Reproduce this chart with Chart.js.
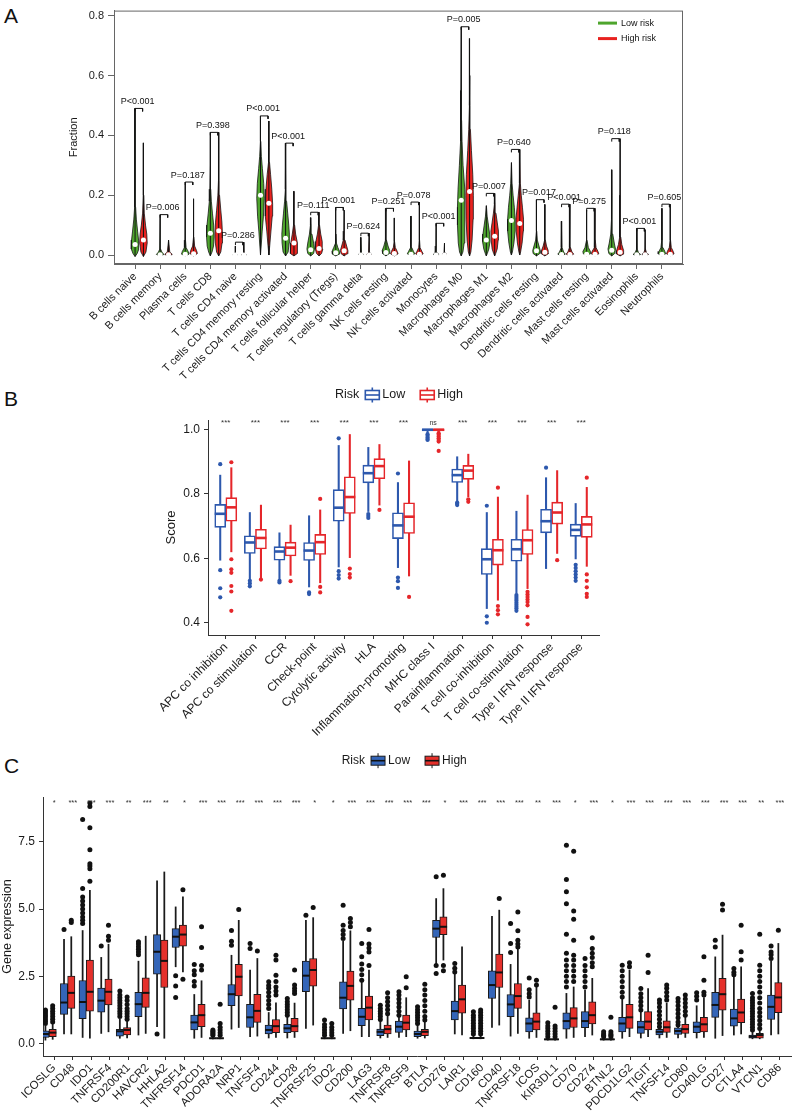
<!DOCTYPE html>
<html>
<head>
<meta charset="utf-8">
<script src="https://cdn.jsdelivr.net/npm/chart.js@4.4.1/dist/chart.umd.min.js"></script>
<style>
  body { margin: 0; background: #fff; width: 797px; height: 1115px; position: relative; overflow: hidden; font-family: 'Liberation Sans', Arial, sans-serif; }
  canvas { position: absolute; left: 0; }
  .tag { position: absolute; left: 4px; font-size: 21px; color: #111; line-height: 1; }
</style>
</head>
<body>
<div class="tag" style="top:5px">A</div>
<div class="tag" style="top:388px">B</div>
<div class="tag" style="top:755px">C</div>
<canvas id="violins" width="797" height="392" style="top:0"></canvas>
<canvas id="scores" width="797" height="365" style="top:385px"></canvas>
<canvas id="genes" width="797" height="370" style="top:745px"></canvas>
<script>
// ---------- panel A: immune cell fractions ----------
const cellTypes = ['B cells naive', 'B cells memory', 'Plasma cells', 'T cells CD8', 'T cells CD4 naive',
  'T cells CD4 memory resting', 'T cells CD4 memory activated', 'T cells follicular helper',
  'T cells regulatory (Tregs)', 'T cells gamma delta', 'NK cells resting', 'NK cells activated', 'Monocytes',
  'Macrophages M0', 'Macrophages M1', 'Macrophages M2', 'Dendritic cells resting', 'Dendritic cells activated',
  'Mast cells resting', 'Mast cells activated', 'Eosinophils', 'Neutrophils'];
const pLabels = ['P<0.001', 'P=0.006', 'P=0.187', 'P=0.398', 'P=0.286', 'P<0.001', 'P<0.001', 'P=0.111',
  'P<0.001', 'P=0.624', 'P=0.251', 'P=0.078', 'P<0.001', 'P=0.005', 'P=0.007', 'P=0.640', 'P=0.017',
  'P<0.001', 'P=0.275', 'P=0.118', 'P<0.001', 'P=0.605'];
const fractionTicks = [0, 0.2, 0.4, 0.6, 0.8];

// violin outlines, bottom to top: [fraction, half width]
const lowViolins = [
  [[-0.005, 0], [0.005, 0.25], [0.02, 0.45], [0.05, 0.42], [0.08, 0.3], [0.12, 0.15], [0.16, 0.07], [0.25, 0.04], [0.49, 0.01]],
  [[-0.003, 0], [0.002, 0.45], [0.01, 0.2], [0.02, 0.05], [0.135, 0.01]],
  [[-0.003, 0], [0.003, 0.45], [0.012, 0.35], [0.025, 0.1], [0.05, 0.03], [0.244, 0.01]],
  [[-0.003, 0], [0.01, 0.2], [0.03, 0.38], [0.06, 0.45], [0.1, 0.4], [0.14, 0.25], [0.18, 0.12], [0.22, 0.05], [0.3, 0.02], [0.41, 0.01]],
  [[-0.002, 0], [0.001, 0.3], [0.004, 0.05], [0.03, 0.006]],
  [[0, 0], [0.03, 0.08], [0.08, 0.2], [0.13, 0.35], [0.19, 0.45], [0.24, 0.38], [0.29, 0.22], [0.33, 0.1], [0.38, 0.04], [0.465, 0.01]],
  [[-0.003, 0], [0.01, 0.3], [0.04, 0.42], [0.07, 0.45], [0.1, 0.38], [0.14, 0.25], [0.18, 0.12], [0.22, 0.05], [0.374, 0.01]],
  [[-0.003, 0], [0.005, 0.35], [0.02, 0.45], [0.04, 0.35], [0.07, 0.15], [0.1, 0.05], [0.125, 0.01]],
  [[-0.003, 0], [0.003, 0.4], [0.012, 0.45], [0.025, 0.25], [0.04, 0.08], [0.07, 0.02], [0.159, 0.01]],
  [[-0.002, 0], [0.002, 0.3], [0.008, 0.08], [0.059, 0.008]],
  [[-0.003, 0], [0.005, 0.4], [0.015, 0.45], [0.03, 0.25], [0.05, 0.06], [0.156, 0.01]],
  [[-0.003, 0], [0.004, 0.45], [0.012, 0.3], [0.025, 0.08], [0.05, 0.02], [0.13, 0.008]],
  [[-0.002, 0], [0.002, 0.35], [0.008, 0.1], [0.03, 0.02], [0.106, 0.006]],
  [[-0.003, 0], [0.01, 0.2], [0.04, 0.35], [0.1, 0.45], [0.16, 0.45], [0.22, 0.38], [0.3, 0.22], [0.38, 0.1], [0.45, 0.05], [0.55, 0.03], [0.763, 0.01]],
  [[-0.003, 0], [0.005, 0.12], [0.02, 0.3], [0.045, 0.45], [0.07, 0.4], [0.1, 0.25], [0.13, 0.1], [0.165, 0.01]],
  [[0, 0], [0.01, 0.12], [0.04, 0.3], [0.08, 0.45], [0.12, 0.45], [0.16, 0.35], [0.2, 0.2], [0.24, 0.08], [0.309, 0.01]],
  [[-0.003, 0], [0.005, 0.4], [0.015, 0.45], [0.03, 0.3], [0.05, 0.1], [0.08, 0.03], [0.185, 0.01]],
  [[-0.003, 0], [0.003, 0.45], [0.01, 0.25], [0.025, 0.06], [0.113, 0.008]],
  [[-0.003, 0], [0.004, 0.4], [0.012, 0.45], [0.025, 0.2], [0.05, 0.04], [0.15, 0.008]],
  [[-0.003, 0], [0.005, 0.35], [0.02, 0.45], [0.04, 0.3], [0.07, 0.12], [0.12, 0.05], [0.2, 0.03], [0.285, 0.01]],
  [[-0.002, 0], [0.002, 0.45], [0.008, 0.2], [0.02, 0.04], [0.089, 0.006]],
  [[-0.003, 0], [0.004, 0.45], [0.012, 0.35], [0.025, 0.12], [0.05, 0.03], [0.156, 0.008]]
];
const highViolins = [
  [[-0.005, 0], [0.01, 0.3], [0.04, 0.45], [0.07, 0.4], [0.1, 0.25], [0.14, 0.1], [0.2, 0.05], [0.375, 0.01]],
  [[-0.003, 0], [0.002, 0.45], [0.01, 0.15], [0.05, 0.01]],
  [[-0.003, 0], [0.005, 0.45], [0.015, 0.35], [0.03, 0.12], [0.06, 0.03], [0.188, 0.01]],
  [[-0.003, 0], [0.01, 0.25], [0.04, 0.4], [0.07, 0.45], [0.11, 0.38], [0.15, 0.25], [0.2, 0.1], [0.25, 0.04], [0.41, 0.01]],
  [[-0.002, 0], [0.001, 0.3], [0.004, 0.05], [0.043, 0.006]],
  [[0, 0], [0.03, 0.1], [0.08, 0.25], [0.13, 0.4], [0.17, 0.45], [0.22, 0.35], [0.27, 0.2], [0.31, 0.08], [0.36, 0.03], [0.448, 0.01]],
  [[-0.003, 0], [0.005, 0.4], [0.02, 0.45], [0.04, 0.38], [0.07, 0.2], [0.1, 0.08], [0.14, 0.03], [0.213, 0.01]],
  [[-0.003, 0], [0.005, 0.3], [0.02, 0.45], [0.045, 0.38], [0.07, 0.2], [0.1, 0.06], [0.143, 0.01]],
  [[-0.003, 0], [0.004, 0.35], [0.015, 0.45], [0.03, 0.3], [0.05, 0.1], [0.08, 0.02], [0.15, 0.01]],
  [[-0.002, 0], [0.002, 0.3], [0.008, 0.08], [0.073, 0.008]],
  [[-0.003, 0], [0.004, 0.45], [0.012, 0.35], [0.025, 0.12], [0.045, 0.03], [0.124, 0.01]],
  [[-0.003, 0], [0.004, 0.45], [0.012, 0.3], [0.025, 0.08], [0.05, 0.02], [0.177, 0.008]],
  [[-0.002, 0], [0.002, 0.3], [0.008, 0.06], [0.04, 0.006]],
  [[-0.003, 0], [0.01, 0.15], [0.05, 0.3], [0.12, 0.42], [0.2, 0.45], [0.27, 0.38], [0.35, 0.22], [0.42, 0.1], [0.5, 0.05], [0.6, 0.03], [0.724, 0.01]],
  [[-0.003, 0], [0.005, 0.12], [0.02, 0.3], [0.05, 0.42], [0.08, 0.45], [0.11, 0.3], [0.14, 0.15], [0.17, 0.05], [0.206, 0.01]],
  [[0, 0], [0.01, 0.1], [0.04, 0.28], [0.08, 0.42], [0.12, 0.45], [0.16, 0.32], [0.2, 0.18], [0.24, 0.07], [0.353, 0.01]],
  [[-0.003, 0], [0.005, 0.45], [0.015, 0.4], [0.03, 0.2], [0.05, 0.06], [0.08, 0.02], [0.169, 0.01]],
  [[-0.003, 0], [0.003, 0.45], [0.01, 0.25], [0.025, 0.06], [0.17, 0.008]],
  [[-0.003, 0], [0.004, 0.45], [0.012, 0.35], [0.025, 0.12], [0.05, 0.03], [0.156, 0.008]],
  [[-0.003, 0], [0.004, 0.45], [0.015, 0.42], [0.035, 0.2], [0.06, 0.08], [0.1, 0.03], [0.2, 0.015], [0.389, 0.008]],
  [[-0.002, 0], [0.002, 0.4], [0.008, 0.15], [0.02, 0.03], [0.085, 0.006]],
  [[-0.003, 0], [0.004, 0.45], [0.012, 0.35], [0.025, 0.12], [0.05, 0.03], [0.17, 0.008]]
];
const lowMedians = [0.035, 0.001, 0.003, 0.073, 0, 0.2, 0.056, 0.018, 0.0075, 0, 0.0086, 0.003, 0, 0.183, 0.05, 0.115, 0.014, 0.002, 0.003, 0.016, 0.001, 0.003];
const highMedians = [0.05, 0.001, 0.004, 0.081, 0, 0.173, 0.04, 0.0215, 0.014, 0, 0.005, 0.003, 0, 0.212, 0.063, 0.105, 0.009, 0.002, 0.003, 0.009, 0.001, 0.003];

// ---------- panel B: immune function scores ----------
const scoreNames = ['APC co inhibition', 'APC co stimulation', 'CCR', 'Check-point', 'Cytolytic activity', 'HLA',
  'Inflammation-promoting', 'MHC class I', 'Parainflammation', 'T cell co-inhibition', 'T cell co-stimulation',
  'Type I IFN response', 'Type II IFN response'];
const scoreStars = ['***', '***', '***', '***', '***', '***', '***', 'ns', '***', '***', '***', '***', '***'];
const scoreTicks = [0.4, 0.6, 0.8, 1.0];
// [lower whisker, q1, median, q3, upper whisker]
const scoreLow = [
  [0.594, 0.696, 0.738, 0.767, 0.858], [0.534, 0.615, 0.649, 0.670, 0.742], [0.532, 0.594, 0.621, 0.636, 0.679],
  [0.511, 0.593, 0.624, 0.649, 0.732], [0.573, 0.715, 0.757, 0.813, 0.950], [0.745, 0.834, 0.864, 0.889, 0.944],
  [0.571, 0.661, 0.702, 0.741, 0.835], [0.990, 0.995, 0.999, 1.000, 1.000], [0.777, 0.835, 0.858, 0.877, 0.915],
  [0.444, 0.550, 0.597, 0.630, 0.742], [0.491, 0.591, 0.628, 0.659, 0.746], [0.568, 0.679, 0.715, 0.752, 0.850],
  [0.598, 0.668, 0.688, 0.706, 0.770]
];
const scoreHigh = [
  [0.620, 0.715, 0.758, 0.788, 0.881], [0.536, 0.629, 0.663, 0.690, 0.765], [0.547, 0.607, 0.633, 0.650, 0.703],
  [0.524, 0.612, 0.650, 0.674, 0.750], [0.602, 0.739, 0.790, 0.853, 0.984], [0.765, 0.847, 0.886, 0.909, 0.953],
  [0.545, 0.677, 0.729, 0.772, 0.902], [0.990, 0.995, 0.999, 1.000, 1.000], [0.791, 0.845, 0.872, 0.888, 0.923],
  [0.470, 0.579, 0.625, 0.659, 0.790], [0.506, 0.612, 0.656, 0.689, 0.796], [0.615, 0.706, 0.742, 0.774, 0.872],
  [0.575, 0.665, 0.705, 0.730, 0.820]
];
const scoreLowOut = [
  [0.892, 0.563, 0.507, 0.479], [0.530, 0.522, 0.513], [0.530, 0.525], [0.494, 0.489], [0.972, 0.560, 0.548, 0.537],
  [0.737, 0.731, 0.725], [0.863, 0.540, 0.529, 0.508], [0.985, 0.980, 0.975, 0.970, 0.967], [0.773, 0.769, 0.765],
  [0.763, 0.420, 0.400], [0.486, 0.480, 0.474, 0.468, 0.462, 0.456, 0.450, 0.444, 0.437], [0.881],
  [0.580, 0.570, 0.560, 0.550, 0.540, 0.530]
];
const scoreHighOut = [
  [0.898, 0.597, 0.566, 0.555, 0.514, 0.497, 0.437], [0.534], [0.529], [0.784, 0.511, 0.494], [0.568, 0.551, 0.540],
  [0.750], [0.480], [0.988, 0.983, 0.978, 0.972, 0.967, 0.962, 0.933], [0.783, 0.775], [0.819, 0.452, 0.439, 0.426],
  [0.496, 0.488, 0.480, 0.472, 0.464, 0.454, 0.418, 0.395], [0.594], [0.850, 0.550, 0.530, 0.510, 0.490, 0.480]
];

// ---------- panel C: immune checkpoint genes ----------
const geneNames = ['ICOSLG', 'CD48', 'IDO1', 'TNFRSF4', 'CD200R1', 'HAVCR2', 'HHLA2', 'TNFRSF14', 'PDCD1', 'ADORA2A',
  'NRP1', 'TNFSF4', 'CD244', 'CD28', 'TNFRSF25', 'IDO2', 'CD200', 'LAG3', 'TNFRSF8', 'TNFRSF9', 'BTLA', 'CD276',
  'LAIR1', 'CD160', 'CD40', 'TNFRSF18', 'ICOS', 'KIR3DL1', 'CD70', 'CD274', 'BTNL2', 'PDCD1LG2', 'TIGIT',
  'TNFSF14', 'CD80', 'CD40LG', 'CD27', 'CTLA4', 'VTCN1', 'CD86'];
const geneStars = ['*', '***', '***', '***', '**', '***', '**', '*', '***', '***', '***', '***', '***', '***', '*', '*',
  '***', '***', '***', '***', '***', '*', '***', '***', '***', '***', '**', '***', '*', '***', '*', '***', '***',
  '***', '***', '***', '***', '***', '**', '***'];
const geneTicks = [0, 2.5, 5, 7.5];
const geneLow = [
  [0.12, 0.22, 0.35, 0.47, 0.65], [0.35, 1.08, 1.52, 2.23, 3.87], [0.22, 0.92, 1.54, 2.34, 4.2], [0.37, 1.16, 1.59, 2.06, 3.2],
  [0.19, 0.27, 0.45, 0.52, 0.9], [0.31, 0.99, 1.46, 1.9, 3.06], [0.62, 2.58, 3.41, 4.05, 6.05], [2.85, 3.57, 3.97, 4.27, 5.08],
  [0.19, 0.5, 0.78, 1.05, 1.82], [0.17, 0.18, 0.19, 0.21, 0.25], [0.53, 1.4, 1.83, 2.19, 3.28], [0.25, 0.59, 0.97, 1.45, 2.73],
  [0.2, 0.35, 0.5, 0.68, 1.15], [0.2, 0.4, 0.56, 0.71, 1.0], [0.56, 1.92, 2.52, 3.06, 4.58], [0.17, 0.18, 0.19, 0.21, 0.25],
  [0.37, 1.28, 1.7, 2.29, 3.8], [0.25, 0.66, 0.99, 1.3, 2.3], [0.2, 0.29, 0.43, 0.53, 0.85], [0.22, 0.41, 0.62, 0.83, 1.0],
  [0.19, 0.25, 0.35, 0.46, 0.7], [2.97, 3.94, 4.27, 4.58, 5.39], [0.35, 0.87, 1.2, 1.57, 2.6], [0.17, 0.18, 0.2, 0.22, 0.27],
  [0.59, 1.67, 2.17, 2.7, 4.73], [0.27, 0.99, 1.45, 1.82, 2.94], [0.19, 0.43, 0.74, 0.95, 1.61], [0.12, 0.13, 0.15, 0.17, 0.2],
  [0.19, 0.53, 0.83, 1.14, 1.86], [0.25, 0.58, 0.83, 1.18, 1.98], [0.12, 0.13, 0.15, 0.17, 0.2], [0.19, 0.43, 0.74, 0.97, 1.65],
  [0.2, 0.37, 0.6, 0.83, 1.2], [0.2, 0.31, 0.43, 0.52, 0.6], [0.2, 0.33, 0.46, 0.58, 0.65], [0.2, 0.4, 0.62, 0.8, 1.4],
  [0.19, 0.97, 1.43, 1.9, 3.22], [0.31, 0.64, 0.93, 1.28, 2.48], [0.17, 0.19, 0.25, 0.31, 0.45], [0.31, 0.89, 1.36, 1.8, 3.06]
];
const geneHigh = [
  [0.15, 0.25, 0.4, 0.52, 0.72], [0.35, 1.3, 1.88, 2.5, 3.97], [0.19, 1.2, 1.92, 3.1, 5.7], [0.43, 1.43, 1.92, 2.39, 3.69],
  [0.2, 0.31, 0.5, 0.59, 0.85], [0.37, 1.34, 1.88, 2.44, 3.99], [0.19, 2.08, 3.07, 3.84, 6.38], [2.66, 3.62, 4.05, 4.4, 5.45],
  [0.22, 0.62, 1.05, 1.45, 2.33], [0.17, 0.18, 0.19, 0.21, 0.26], [0.59, 1.77, 2.48, 2.94, 4.58], [0.27, 0.78, 1.21, 1.83, 3.16],
  [0.22, 0.4, 0.64, 0.89, 1.51], [0.22, 0.43, 0.64, 0.93, 1.5], [0.68, 2.13, 2.73, 3.16, 4.68], [0.17, 0.18, 0.19, 0.21, 0.25],
  [0.47, 1.61, 2.14, 2.69, 4.19], [0.25, 0.87, 1.33, 1.76, 2.73], [0.22, 0.35, 0.53, 0.68, 1.05], [0.25, 0.5, 0.77, 1.05, 1.7],
  [0.2, 0.29, 0.43, 0.52, 0.8], [3.1, 4.05, 4.34, 4.71, 5.76], [0.31, 1.12, 1.64, 2.17, 3.59], [0.17, 0.18, 0.2, 0.22, 0.27],
  [0.68, 2.08, 2.64, 3.32, 4.96], [0.37, 1.3, 1.76, 2.23, 3.5], [0.22, 0.5, 0.81, 1.14, 2.1], [0.12, 0.13, 0.15, 0.17, 0.2],
  [0.22, 0.59, 0.93, 1.33, 2.1], [0.31, 0.72, 1.05, 1.55, 2.42], [0.12, 0.13, 0.15, 0.17, 0.2], [0.25, 0.56, 0.97, 1.45, 2.73],
  [0.25, 0.5, 0.81, 1.18, 2.04], [0.22, 0.41, 0.6, 0.84, 1.5], [0.22, 0.37, 0.53, 0.71, 1.0], [0.22, 0.43, 0.71, 0.97, 1.7],
  [0.29, 1.24, 1.83, 2.42, 4.03], [0.35, 0.77, 1.15, 1.65, 2.85], [0.17, 0.19, 0.31, 0.37, 0.5], [0.35, 1.14, 1.71, 2.26, 3.72]
];
const geneLowOut = [
  [0.74, 0.82, 0.9, 0.98, 1.05, 1.12, 1.2, 1.24], [4.24], [4.46, 4.58, 4.7, 4.85, 5.0, 5.15, 5.3, 5.45, 5.76, 8.33], [3.62],
  [1.0, 1.1, 1.2, 1.3, 1.4, 1.5, 1.6, 1.7, 1.8, 1.95], [3.3, 3.4, 3.5, 3.6, 3.7, 3.78], [0.35], [2.52, 2.14, 1.71],
  [2.14, 2.3, 2.55, 2.7, 2.94], [0.3, 0.35, 0.4, 0.45, 0.5], [3.65, 3.8, 4.2], [3.53, 3.72],
  [1.3, 1.45, 1.6, 1.75, 1.9, 2.05, 2.15, 2.29], [1.05, 1.15, 1.25, 1.35, 1.45, 1.55, 1.67], [4.77],
  [0.3, 0.4, 0.5, 0.6, 0.7, 0.87], [3.9, 4.05, 4.2, 4.4, 5.14], [2.35, 2.55, 2.75, 2.95, 3.22, 3.72],
  [0.89, 1.0, 1.1, 1.2, 1.3, 1.42], [1.05, 1.2, 1.35, 1.5, 1.65, 1.8, 1.92], [0.74, 0.85, 0.95, 1.05, 1.15, 1.25, 1.36],
  [6.2, 2.9, 2.6], [2.66, 2.8, 2.97], [0.35, 0.45, 0.55, 0.65, 0.75, 0.85, 0.95, 1.05, 1.18], [], [3.38, 3.72, 4.46],
  [1.73, 1.85, 2.0, 2.43], [0.25, 0.35, 0.45, 0.55, 0.65, 0.77],
  [2.1, 2.3, 2.5, 2.7, 2.9, 3.1, 3.35, 4.06, 5.2, 5.64, 6.1, 7.37], [2.1, 2.3, 2.5, 2.7, 2.9, 3.16], [0.25, 0.3, 0.35, 0.43],
  [1.73, 1.9, 2.1, 2.3, 2.5, 2.7, 2.91], [1.24, 1.4, 1.55, 1.7, 1.85, 2.04], [0.62, 0.75, 0.9, 1.05, 1.2, 1.35, 1.5, 1.61],
  [0.68, 0.8, 0.95, 1.1, 1.25, 1.4, 1.55, 1.67], [1.61, 1.75, 1.88], [3.59, 3.84], [2.55, 2.65, 2.79],
  [0.5, 0.6, 0.7, 0.8, 0.9, 1.0, 1.1, 1.2, 1.3, 1.4, 1.5, 1.6, 1.7, 1.86], [3.16, 3.3, 3.4, 3.62]
];
const geneHighOut = [
  [0.8, 0.9, 1.0, 1.1, 1.2, 1.3, 1.4], [4.5, 4.58], [6.03, 6.5, 6.6, 6.69, 7.21, 8.03, 8.82, 8.95], [3.84, 3.99, 4.4],
  [0.9, 1.0, 1.1, 1.2, 1.3, 1.45, 1.6, 1.73], [], [], [5.72, 2.39], [2.73, 2.9, 3.57, 4.34], [0.3, 0.4, 0.5, 0.6, 0.74, 1.46],
  [4.98], [3.44], [1.8, 1.95, 2.1, 2.3, 2.54, 3.1, 3.28], [1.86, 1.95, 2.05, 2.17, 2.73], [5.06], [0.3, 0.4, 0.5, 0.6, 0.74],
  [4.34, 4.5, 4.65], [2.9, 3.4, 3.55, 3.7, 4.24], [1.1, 1.25, 1.4, 1.55, 1.7, 1.88], [2.07, 2.48],
  [0.87, 1.0, 1.2, 1.4, 1.6, 1.8, 2.0, 2.2], [6.26, 2.9, 2.7], [], [0.35, 0.45, 0.55, 0.65, 0.75, 0.85, 0.95, 1.05, 1.15, 1.24],
  [5.39], [3.59, 3.7, 3.84, 4.19, 4.89], [2.17, 2.35], [0.25, 0.35, 0.45, 0.55, 0.65, 1.34],
  [2.3, 2.5, 2.7, 2.9, 3.1, 3.28, 3.84, 4.62, 4.93, 7.15], [2.85, 3.0, 3.2, 3.35, 3.53, 3.93], [0.25, 0.3, 0.35, 0.43, 0.97],
  [2.85, 3.0], [2.64, 3.28], [1.61, 1.75, 1.9, 2.05, 2.17], [1.05, 1.2, 1.35, 1.5, 1.65, 1.8], [1.8, 1.9, 2.35, 3.22],
  [4.96, 5.18], [3.1, 3.41, 4.4], [0.55, 0.7, 0.85, 1.0, 1.15, 1.3, 1.5, 1.7, 1.9, 2.1, 2.3, 2.5, 2.7, 2.91, 4.06], [4.21]
];

// ---------- common setup ----------
const FONT = "'Liberation Sans', Arial, Helvetica, sans-serif";
Chart.defaults.font.family = FONT;
Chart.defaults.color = '#1a1a1a';
Chart.defaults.animation = false;
Chart.defaults.events = [];
Chart.defaults.plugins.legend.display = false;
Chart.defaults.plugins.tooltip.enabled = false;

const GREEN = '#4ea52d';
const RED = '#e8221f';
const lowPos = i => 3 * i;
const highPos = i => 3 * i + 1;
const topOf = profile => profile[profile.length - 1][0];
const bracketTops = cellTypes.map((_, i) => Math.max(topOf(lowViolins[i]), topOf(highViolins[i])));

function violinDataset(profile, pos, colour) {
  const right = profile.map(([v, w]) => ({ x: pos + w, y: v }));
  const left = profile.slice().reverse().map(([v, w]) => ({ x: pos - w, y: v }));
  return {
    type: 'line', data: right.concat(left), fill: 'shape', backgroundColor: colour,
    borderColor: '#161616', borderWidth: 0.8, pointRadius: 0, order: 4
  };
}

const spines = [];
const brackets = [];
cellTypes.forEach((_, i) => {
  [[lowViolins[i], lowPos(i)], [highViolins[i], highPos(i)]].forEach(([prof, x]) => {
    spines.push({ x, y: prof[0][0] }, { x, y: topOf(prof) }, { x, y: null });
  });
  const t = bracketTops[i];
  brackets.push({ x: lowPos(i), y: t - 0.01 }, { x: lowPos(i), y: t }, { x: lowPos(i) + 0.9, y: t },
    { x: lowPos(i) + 0.9, y: t - 0.01 }, { x: lowPos(i), y: null });
});

const framePlugin = {
  id: 'frame',
  afterDraw(chart) {
    const { ctx, chartArea: a } = chart;
    ctx.save();
    ctx.strokeStyle = '#666';
    ctx.lineWidth = 1;
    ctx.strokeRect(a.left + 0.5, a.top + 0.5, a.right - a.left - 1, a.bottom - a.top - 1);
    ctx.restore();
  }
};

const pValuePlugin = {
  id: 'pvalues',
  afterDatasetsDraw(chart) {
    const { ctx, scales: { x, y } } = chart;
    ctx.save();
    ctx.font = '9px ' + FONT;
    ctx.fillStyle = '#111';
    ctx.textAlign = 'center';
    ctx.textBaseline = 'middle';
    pLabels.forEach((p, i) => {
      ctx.fillText(p, x.getPixelForValue(lowPos(i) + 0.3), y.getPixelForValue(bracketTops[i]) - 7);
    });
    ctx.restore();
  }
};

const riskKeyPlugin = {
  id: 'riskKey',
  afterDraw(chart) {
    const { ctx, chartArea: a } = chart;
    const keys = [['Low risk', GREEN], ['High risk', RED]];
    ctx.save();
    ctx.font = '9px ' + FONT;
    ctx.textBaseline = 'middle';
    keys.forEach(([label, colour], k) => {
      const yy = a.top + 12.5 + k * 15.5;
      ctx.strokeStyle = colour;
      ctx.lineWidth = 3;
      ctx.beginPath();
      ctx.moveTo(a.right - 85, yy);
      ctx.lineTo(a.right - 66, yy);
      ctx.stroke();
      ctx.fillStyle = '#111';
      ctx.fillText(label, a.right - 62, yy);
    });
    ctx.restore();
  }
};

new Chart(document.getElementById('violins'), {
  type: 'line',
  data: {
    datasets: [
      ...lowViolins.map((p, i) => violinDataset(p, lowPos(i), GREEN)),
      ...highViolins.map((p, i) => violinDataset(p, highPos(i), RED)),
      { type: 'line', data: spines, borderColor: '#111', borderWidth: 1, pointRadius: 0, spanGaps: false, order: 3 },
      { type: 'line', data: brackets, borderColor: '#111', borderWidth: 1, pointRadius: 0, spanGaps: false, order: 3 },
      {
        type: 'line', showLine: false, order: 1, pointRadius: 2.5, pointBorderWidth: 0, pointBackgroundColor: '#fff',
        data: lowMedians.map((m, i) => ({ x: lowPos(i), y: m })).concat(highMedians.map((m, i) => ({ x: highPos(i), y: m })))
      }
    ]
  },
  options: {
    responsive: false,
    devicePixelRatio: 1,
    layout: { padding: { top: 2, right: 114, left: 0, bottom: 0 } },
    scales: {
      x: {
        type: 'linear', min: -2.52, max: 65.52, offset: false,
        afterBuildTicks: s => { s.ticks = cellTypes.map((_, i) => ({ value: lowPos(i) })); },
        afterFit: s => { s.height = 128; },
        ticks: { callback: (v, i) => cellTypes[i], autoSkip: false, minRotation: 45, maxRotation: 45, font: { size: 11 }, padding: 1, color: '#1a1a1a' },
        grid: { drawOnChartArea: false, tickLength: 5, color: '#666' },
        border: { color: '#666' }
      },
      y: {
        type: 'linear', min: -0.03, max: 0.817,
        afterBuildTicks: s => { s.ticks = fractionTicks.map(v => ({ value: v })); },
        afterFit: s => { s.width = 114; },
        ticks: { callback: v => v.toFixed(1), font: { size: 11 }, padding: 4, color: '#1a1a1a' },
        grid: { drawOnChartArea: false, tickLength: 6, color: '#666' },
        border: { color: '#666' },
        title: { display: true, text: 'Fraction', font: { size: 11 }, padding: { top: 67, bottom: 0 }, color: '#1a1a1a' }
      }
    }
  },
  plugins: [framePlugin, pValuePlugin, riskKeyPlugin]
});

// ---------- box plot helpers (panels B and C) ----------
function boxDatasets(stats, outliers, offset, look) {
  const at = k => k + offset;
  const points = [];
  outliers.forEach((list, k) => list.forEach(v => points.push({ x: at(k), y: v })));
  return [
    {
      type: 'bar', grouped: false, order: 4, barThickness: look.whisker, backgroundColor: look.line, borderWidth: 0,
      data: stats.map((s, k) => ({ x: at(k), y: [s[0], s[4]] }))
    },
    {
      type: 'bar', grouped: false, order: 3, barThickness: look.box, backgroundColor: look.fill,
      borderColor: look.edge, borderWidth: look.edgeWidth, borderSkipped: false,
      data: stats.map((s, k) => ({ x: at(k), y: [s[1], s[3]] }))
    },
    {
      type: 'line', showLine: false, order: 2, pointStyle: 'line', pointRadius: look.box / 2,
      pointBorderWidth: look.medianWidth, pointBorderColor: look.median,
      data: stats.map((s, k) => ({ x: at(k), y: s[2] }))
    },
    {
      type: 'line', showLine: false, order: 1, pointRadius: look.dot, pointBorderWidth: 0,
      pointBackgroundColor: look.outlier, data: points
    }
  ];
}

function starPlugin(stars, level, size) {
  return {
    id: 'stars',
    afterDatasetsDraw(chart) {
      const { ctx, scales: { x, y } } = chart;
      ctx.save();
      ctx.fillStyle = '#333';
      ctx.textAlign = 'center';
      ctx.textBaseline = 'middle';
      stars.forEach((s, k) => {
        ctx.font = (s === 'ns' ? size - 1 : size) + 'px ' + FONT;
        ctx.fillText(s, x.getPixelForValue(k), y.getPixelForValue(level));
      });
      ctx.restore();
    }
  };
}

function legendPlugin(startX, cy, size, looks) {
  return {
    id: 'riskLegend',
    afterDraw(chart) {
      const ctx = chart.ctx;
      ctx.save();
      ctx.font = size + 'px ' + FONT;
      ctx.textBaseline = 'middle';
      ctx.fillStyle = '#1a1a1a';
      let x = startX;
      ctx.fillText('Risk', x, cy);
      x += ctx.measureText('Risk').width + 6;
      looks.forEach(([label, look], n) => {
        const w = 14, h = 9;
        ctx.strokeStyle = look.edge;
        ctx.lineWidth = look.edgeWidth;
        ctx.beginPath();
        ctx.moveTo(x + w / 2, cy - h / 2 - 3);
        ctx.lineTo(x + w / 2, cy + h / 2 + 3);
        ctx.stroke();
        ctx.fillStyle = look.fill;
        ctx.fillRect(x, cy - h / 2, w, h);
        ctx.strokeRect(x, cy - h / 2, w, h);
        ctx.strokeStyle = look.median;
        ctx.lineWidth = 1.6;
        ctx.beginPath();
        ctx.moveTo(x, cy);
        ctx.lineTo(x + w, cy);
        ctx.stroke();
        x += w + 3;
        ctx.fillStyle = '#1a1a1a';
        ctx.fillText(label, x, cy);
        x += ctx.measureText(label).width + (n === 0 ? 15 : 0);
      });
      ctx.restore();
    }
  };
}

function boxChart(canvasId, cfg) {
  return new Chart(document.getElementById(canvasId), {
    type: 'bar',
    data: {
      datasets: [
        ...boxDatasets(cfg.low, cfg.lowOut, cfg.offsets[0], cfg.looks[0][1]),
        ...boxDatasets(cfg.high, cfg.highOut, cfg.offsets[1], cfg.looks[1][1])
      ]
    },
    options: {
      responsive: false,
      devicePixelRatio: 1,
      layout: { padding: cfg.padding },
      scales: {
        x: {
          type: 'linear', min: -0.6, max: cfg.names.length - 0.4, offset: false,
          afterBuildTicks: s => { s.ticks = cfg.names.map((_, k) => ({ value: k })); },
          afterFit: s => { s.height = cfg.xHeight; },
          ticks: { callback: (v, i) => cfg.names[i], autoSkip: false, minRotation: 45, maxRotation: 45, font: { size: cfg.xFont }, padding: 1, color: '#1a1a1a' },
          grid: { drawOnChartArea: false, tickLength: 4, color: '#333', offset: false },
          border: { color: '#333' }
        },
        y: {
          type: 'linear', stacked: false, min: cfg.yMin, max: cfg.yMax,
          afterBuildTicks: s => { s.ticks = cfg.yTicks.map(v => ({ value: v })); },
          afterFit: s => { s.width = cfg.yWidth; },
          ticks: { callback: v => v.toFixed(1), font: { size: 12 }, padding: 4, color: '#1a1a1a' },
          grid: { drawOnChartArea: false, tickLength: 4, color: '#333' },
          border: { color: '#333' },
          title: { display: true, text: cfg.title, font: { size: cfg.titleFont }, padding: { top: cfg.titlePad, bottom: 0 }, color: '#1a1a1a' }
        }
      }
    },
    plugins: [starPlugin(cfg.stars, cfg.starLevel, cfg.starFont), legendPlugin(cfg.legendX, cfg.legendY, cfg.legendFont, cfg.looks)]
  });
}

const BLUE_B = '#2d58ad';
const RED_B = '#e5262a';
const outlineLook = c => ({ line: c, fill: '#fff', edge: c, edgeWidth: 1.6, median: c, medianWidth: 2.6, box: 11, whisker: 1.4, dot: 2.1, outlier: c });
boxChart('scores', {
  names: scoreNames, stars: scoreStars, low: scoreLow, high: scoreHigh, lowOut: scoreLowOut, highOut: scoreHighOut,
  offsets: [-0.1875, 0.1875], looks: [['Low', outlineLook(BLUE_B)], ['High', outlineLook(RED_B)]],
  padding: { top: 35, right: 198, left: 0, bottom: 0 }, xHeight: 115, yWidth: 208, xFont: 12,
  yMin: 0.362, yMax: 1.029, yTicks: scoreTicks, title: 'Score', titleFont: 13, titlePad: 164,
  starLevel: 1.019, starFont: 8, legendX: 335, legendY: 10, legendFont: 12.5
});

const filledLook = c => ({ line: '#1a1a1a', fill: c, edge: '#1a1a1a', edgeWidth: 1, median: '#111', medianWidth: 2, box: 7.3, whisker: 1.1, dot: 2.5, outlier: '#111' });
boxChart('genes', {
  names: geneNames, stars: geneStars, low: geneLow, high: geneHigh, lowOut: geneLowOut, highOut: geneHighOut,
  offsets: [-0.47, -0.08], looks: [['Low', filledLook('#3465b8')], ['High', filledLook('#e5302b')]],
  padding: { top: 52, right: 1.5, left: 0, bottom: 0 }, xHeight: 59, yWidth: 43, xFont: 11.5,
  yMin: -0.47, yMax: 9.17, yTicks: geneTicks, title: 'Gene expression', titleFont: 12.5, titlePad: 0.5,
  starLevel: 8.96, starFont: 7.5, legendX: 341.7, legendY: 15.7, legendFont: 12
});
</script>
</body>
</html>
